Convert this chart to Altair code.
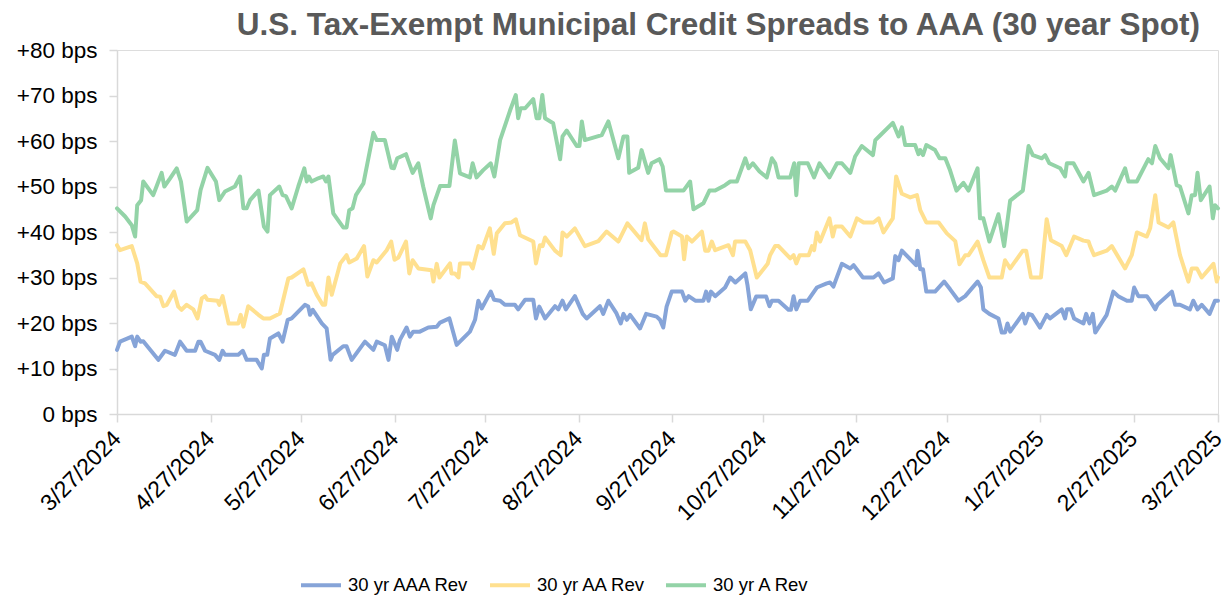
import altair as alt
import pandas as pd

# Days since 3/27/2024 and spread in bps
aaa_days = [0, 1.0, 4.9, 6.0, 6.7, 7.8, 8.7, 13.7, 15.9, 19.2, 20.9, 23.1, 25.9, 27.0, 27.7, 29.2, 32.5, 33.9, 35.0, 35.8,
            40.2, 41.7, 43.0, 46.3, 48.0, 48.7, 49.8, 50.7, 53.5, 54.9, 56.6, 57.9, 62.3, 63.4, 64.0, 64.9, 67.9, 69.5,
            70.8, 71.5, 75.0, 76.1, 77.8, 82.2, 85.0, 86.1, 88.8, 90.0, 91.1, 92.9, 93.8, 96.0, 97.1, 98.2, 100.4, 103.2,
            106.0, 107.1, 110.2, 112.6, 117.0, 118.7, 119.8, 120.9, 123.9, 125.0, 127.0, 128.6, 131.9, 133.0, 135.3,
            138.0, 138.9, 140.0, 141.9, 145.2, 146.3, 147.7, 148.8, 151.8, 154.4, 155.7, 160.1, 161.2, 162.9, 165.6,
            167.0, 167.9, 169.0, 170.1, 173.4, 175.4, 178.9, 180.0, 181.1, 182.2, 183.9, 187.3, 188.4, 189.5, 191.7,
            194.4, 195.3, 196.1, 196.9, 198.3, 201.6, 203.3, 205.0, 208.3, 209.0, 210.1, 211.9, 215.2, 216.3, 217.1,
            219.3, 222.6, 223.4, 224.3, 225.2, 226.5, 229.0, 232.0, 235.3, 236.4, 237.5, 240.3, 243.1, 244.2, 247.3,
            250.8, 252.5, 254.3, 257.2, 258.0, 259.1, 260.2, 264.9, 265.4, 266.3, 267.2, 268.3, 271.2, 274.2, 276.2,
            279.0, 281.2, 285.3, 286.4, 287.2, 289.2, 292.2, 293.3, 294.4, 295.2, 296.1, 300.3, 301.1, 302.2, 303.3,
            306.0, 308.2, 309.3, 313.2, 314.3, 314.9, 316.2, 317.3, 320.4, 321.3, 322.4, 323.5, 324.3, 328.1, 330.3,
            331.9, 334.8, 336.4, 337.2, 338.6, 341.4, 342.5, 344.2, 344.9, 349.7, 350.8, 352.4, 355.7, 356.8, 358.2,
            359.6, 362.2, 364.0, 365.0]
aaa_bps = [14.1, 15.9, 17.0, 14.9, 17.0, 15.9, 16.0, 11.9, 13.9, 13.0, 15.9, 13.9, 13.9, 15.9, 15.9, 13.9, 13.0, 11.9, 13.9, 13.0,
           13.0, 13.9, 11.9, 11.9, 10.0, 13.0, 13.0, 16.6, 17.7, 15.9, 20.7, 21.0, 24.0, 23.6, 21.8, 22.9, 19.9, 18.8,
           11.9, 13.0, 14.9, 14.9, 11.9, 15.9, 14.1, 15.9, 15.1, 11.9, 17.0, 14.1, 16.3, 19.0, 17.0, 18.1, 18.1, 19.0,
           19.2, 20.1, 21.0, 15.2, 18.1, 20.7, 24.9, 23.2, 26.9, 25.1, 24.9, 24.0, 24.0, 23.0, 25.1,
           25.1, 21.0, 23.6, 21.0, 23.7, 23.0, 24.9, 23.0, 25.9, 22.0, 21.0, 23.7, 22.0, 24.9, 22.1,
           19.9, 22.0, 20.7, 21.8, 18.8, 22.0, 21.4, 20.7, 19.0, 23.6, 26.9, 26.9, 24.9, 25.9, 24.9,
           24.9, 26.9, 24.9, 26.9, 25.9, 27.8, 30.0, 28.9, 30.9, 28.4, 23.0, 25.8, 25.8, 23.7, 24.9,
           24.9, 22.9, 22.9, 25.9, 23.0, 24.9, 24.9, 27.8, 28.7, 28.9, 28.0, 33.0, 32.0, 32.7, 30.0,
           30.0, 30.9, 28.9, 29.8, 34.7, 33.8, 35.9, 32.7, 35.9, 31.8, 31.8, 26.9, 26.9, 29.1, 27.4,
           24.9, 25.9, 29.1, 27.8, 23.0, 22.0, 21.0, 17.9, 17.9, 19.9, 18.1, 22.0, 19.9, 22.0, 21.8,
           19.0, 21.8, 21.0, 23.0, 21.0, 23.0, 23.0, 21.0, 19.9, 22.0, 19.9, 22.0, 17.9, 21.8, 26.9,
           25.9, 24.9, 24.9, 27.8, 25.9, 25.9, 24.9, 23.0, 24.0, 26.9, 24.0, 24.0, 23.0, 24.9, 23.0,
           24.0, 22.0, 24.9, 24.9]

aa_days = [0, 1.0, 4.9, 6.7, 7.8, 9.3, 13.1, 14.3, 15.4, 16.5, 18.9, 20.3, 21.4, 23.1, 25.3, 26.7, 28.1, 29.2, 30.0, 33.3,
           33.9, 35.0, 37.0, 40.2, 41.0, 41.9, 43.5, 46.9, 48.5, 50.7, 54.0, 56.8, 57.9, 61.8, 63.4, 64.5, 66.2, 68.2,
           69.0, 70.1, 71.2, 74.0, 76.1, 77.0, 79.5, 81.9, 83.0, 85.0, 86.1, 89.4, 90.9, 92.0, 93.3, 95.8, 96.9, 98.0,
           99.9, 104.3, 104.9, 106.0, 106.9, 110.4, 110.9, 112.0, 113.2, 113.7, 117.0, 117.9, 119.8, 121.2, 123.6,
           124.9, 125.9, 128.6, 130.8, 132.2, 133.6, 138.0, 138.9, 140.2, 141.1, 141.9, 145.2, 147.1, 147.7, 149.1,
           151.8, 155.1, 159.6, 162.3, 166.2, 169.2, 173.9, 175.0, 176.1, 180.2, 182.0, 183.9, 184.5, 187.3, 188.0,
           188.9, 190.6, 193.9, 195.0, 196.1, 197.2, 198.3, 202.7, 204.2, 204.9, 208.3, 209.9, 212.1, 215.7, 216.5,
           218.2, 219.3, 223.2, 224.3, 225.2, 226.3, 229.3, 230.4, 231.1, 232.0, 233.1, 236.2, 237.3, 238.1, 240.3,
           243.1, 245.3, 247.5, 250.8, 252.5, 254.1, 257.2, 258.3, 260.2, 263.0, 265.2, 266.3, 268.3, 272.4, 275.1,
           277.9, 279.3, 281.2, 282.3, 285.3, 287.2, 289.2, 293.3, 294.4, 296.1, 300.3, 301.4, 303.0, 306.3, 308.2,
           309.6, 313.2, 314.7, 317.3, 320.4, 322.1, 322.6, 323.9, 328.1, 329.8, 334.2, 336.4, 338.1, 341.4, 342.5,
           344.2, 345.3, 348.6, 350.2, 352.4, 355.2, 356.3, 358.0, 359.6, 363.5, 364.6, 365.0]
aa_bps = [37.1, 36.0, 36.9, 33.1, 29.1, 28.7, 25.9, 25.8, 23.7, 24.0, 26.9, 23.6, 22.9, 24.0, 23.0, 21.0, 25.4, 25.9, 25.1, 24.9,
          24.0, 25.9, 19.9, 19.9, 21.8, 19.2, 23.7, 21.8, 21.0, 21.0, 22.1, 29.8, 30.0, 31.8, 28.4, 28.7, 26.2, 24.0,
          24.0, 30.0, 26.2, 33.1, 34.9, 33.3, 34.2, 36.9, 30.2, 33.8, 33.3, 36.0, 37.9, 33.9, 34.4, 37.9, 30.9, 33.8,
          32.0, 31.6, 29.1, 33.0, 30.0, 33.1, 30.9, 30.9, 30.0, 33.1, 33.1, 32.0, 36.9, 36.4, 40.8,
          35.2, 39.7, 41.9, 42.1, 42.8, 39.3, 37.9, 33.1, 37.1, 36.9, 38.8, 35.9, 34.9, 39.9, 39.0,
          40.8, 36.9, 38.0, 40.1, 37.9, 41.9, 38.2, 41.9, 38.4, 34.9, 34.9, 39.9, 40.1, 39.0, 34.0,
          39.0, 37.9, 40.1, 35.9, 35.9, 37.9, 36.0, 37.1, 34.9, 37.9, 37.9, 36.0, 30.0, 33.0, 34.9,
          36.9, 36.9, 34.2, 34.9, 33.1, 34.9, 34.9, 36.9, 36.0, 39.9, 37.9, 43.0, 39.0, 41.2, 41.2,
          39.0, 43.0, 42.1, 42.1, 43.0, 39.9, 43.0, 52.2, 48.4, 47.6, 48.1, 44.8, 42.1, 42.1, 39.7,
          38.0, 32.9, 34.9, 34.9, 37.9, 33.8, 30.0, 30.0, 33.8, 32.0, 35.9, 35.9, 30.0, 30.0, 42.8,
          38.2, 36.9, 34.9, 39.0, 38.1, 37.9, 36.9, 34.9, 35.9, 36.9, 32.0, 34.9, 39.9, 39.0, 40.8,
          48.1, 42.1, 41.0, 42.1, 34.9, 29.1, 32.0, 32.0, 30.0, 33.0, 29.1, 30.0]

a_days = [0, 2.7, 4.9, 6.0, 6.7, 8.0, 8.7, 12.0, 13.1, 14.8, 15.7, 17.6, 19.8, 21.2, 23.1, 26.6, 27.7, 30.0, 32.8, 33.9,
          35.8, 39.1, 40.8, 41.9, 43.0, 44.1, 46.9, 48.7, 49.9, 50.7, 53.8, 54.9, 56.0, 57.9, 60.1, 62.1, 62.9, 63.6,
          64.5, 66.7, 68.4, 69.3, 70.1, 71.7, 75.0, 76.1, 77.0, 78.1, 79.2, 81.7, 85.0, 86.1, 88.8, 91.0, 91.8, 92.9,
          95.8, 98.0, 99.9, 101.5, 104.0, 104.9, 107.1, 110.2, 112.0, 113.7, 117.0, 117.9, 119.2, 121.4, 123.9, 125.1,
          127.0, 130.3, 132.2, 133.0, 133.8, 135.3, 138.0, 139.1, 140.0, 141.0, 141.9, 144.6, 146.9, 147.7, 149.1,
          152.4, 153.3, 154.1, 155.1, 160.7, 162.9, 166.2, 167.9, 169.2, 169.8, 172.8, 173.9, 176.1, 177.2, 179.8,
          180.9, 182.0, 187.8, 190.0, 191.1, 194.4, 196.4, 198.3, 201.6, 203.3, 205.5, 208.3, 209.4, 210.8, 213.0,
          215.4, 217.1, 218.2, 219.3, 223.2, 224.5, 225.2, 226.0, 229.0, 231.1, 232.9, 236.2, 238.7, 240.3, 243.1,
          244.7, 246.9, 250.6, 251.4, 252.8, 257.2, 259.1, 260.2, 261.3, 264.6, 265.7, 266.3, 267.2, 268.3, 271.2,
          272.7, 274.6, 276.2, 278.3, 280.6, 282.3, 285.3, 286.1, 287.2, 289.2, 292.2, 294.1, 296.1, 300.3, 302.2,
          303.6, 306.6, 307.7, 309.1, 312.7, 314.3, 314.9, 317.1, 320.4, 322.1, 323.9, 328.1, 329.8, 330.9, 334.2,
          335.3, 338.1, 341.9, 343.1, 344.2, 345.8, 348.6, 349.3, 351.3, 352.4, 355.2, 356.3, 357.4, 358.2, 359.3,
          362.2, 363.3, 364.0, 365.0]
a_bps = [45.2, 43.4, 41.5, 39.0, 45.9, 47.0, 51.1, 48.1, 50.0, 53.0, 50.0, 51.8, 54.0, 51.1, 42.3, 44.8, 49.2, 54.1, 51.1, 47.0,
         48.9, 50.0, 52.2, 45.2, 45.2, 47.0, 49.1, 41.2, 40.1, 48.1, 50.0, 48.1, 47.9, 45.2, 50.0, 54.0, 51.1, 52.2,
         51.1, 51.8, 52.2, 51.1, 52.2, 44.1, 41.0, 41.0, 44.8, 45.2, 48.1, 50.7, 61.8, 60.2, 60.2, 54.1, 54.0, 56.2,
         57.1, 53.0, 55.1, 50.0, 43.0, 45.9, 50.1, 50.1, 60.1, 52.9, 52.0, 55.1, 52.0, 53.6, 55.1, 52.2,
         60.2, 66.7, 70.1, 65.0, 67.2, 67.2, 69.2, 65.0, 65.0, 70.1, 65.0, 63.9, 56.0, 61.0, 62.3,
         58.9, 58.9, 64.3, 60.2, 61.3, 64.3, 56.2, 61.0, 61.0, 53.0, 54.1, 58.0, 53.0, 55.1, 56.0,
         54.4, 49.1, 49.1, 51.1, 45.0, 46.3, 49.1, 49.1, 50.3, 51.1, 51.1, 56.2, 54.0, 55.1, 53.3,
         52.0, 56.2, 55.1, 52.0, 52.0, 55.1, 48.1, 55.1, 55.1, 52.0, 55.1, 52.0, 55.1, 55.1, 53.0,
         56.6, 58.9, 56.9, 60.2, 61.1, 64.0, 61.0, 63.0, 59.1, 59.1, 57.1, 58.0, 56.9, 59.1, 58.0,
         56.2, 56.2, 53.5, 49.1, 50.8, 49.1, 54.0, 43.0, 43.0, 37.9, 43.9, 36.9, 46.9, 49.1, 58.9,
         56.9, 56.2, 56.9, 55.1, 54.0, 52.2, 55.1, 55.1, 51.1, 53.0, 48.1, 49.1, 50.0, 49.1, 54.0,
         51.1, 51.1, 56.0, 55.1, 58.9, 56.2, 54.0, 56.9, 50.3, 50.0, 44.1, 48.1, 48.1, 53.0, 47.0,
         50.0, 43.0, 45.9, 45.2]

series_names = ["30 yr AAA Rev", "30 yr AA Rev", "30 yr A Rev"]
series_colors = ["#86a4d8", "#ffe08f", "#93d3a7"]
tick_dates = [(2024, 3), (2024, 4), (2024, 5), (2024, 6), (2024, 7), (2024, 8), (2024, 9), (2024, 10),
              (2024, 11), (2024, 12), (2025, 1), (2025, 2), (2025, 3)]
y_ticks = [0, 10, 20, 30, 40, 50, 60, 70, 80]

start = pd.Timestamp("2024-03-27")


def frame(days, vals, name):
    return pd.DataFrame({
        "date": start + pd.to_timedelta(days, unit="D"),
        "bps": vals,
        "series": name,
    })


df = pd.concat([
    frame(aaa_days, aaa_bps, series_names[0]),
    frame(aa_days, aa_bps, series_names[1]),
    frame(a_days, a_bps, series_names[2]),
], ignore_index=True)

FONT = "Liberation Sans"
AXIS_GRAY = "#d9d9d9"

chart = alt.Chart(df).mark_line(strokeWidth=4, strokeJoin="round", strokeCap="round").encode(
    x=alt.X(
        "date:T",
        scale=alt.Scale(domain=[alt.DateTime(year=2024, month=3, date=27),
                                alt.DateTime(year=2025, month=3, date=27)], nice=False),
        axis=alt.Axis(
            values=[alt.DateTime(year=y, month=m, date=27) for y, m in tick_dates],
            format="%-m/%-d/%Y", labelAngle=-45, labelAlign="right", labelBaseline="top",
            title=None, grid=False, labelFont=FONT, labelFontSize=23, labelColor="#000000",
            labelPadding=5, labelOffset=-8, tickSize=8, tickColor=AXIS_GRAY, tickWidth=1.5,
            domainColor=AXIS_GRAY, domainWidth=1.5, labelOverlap=False, labelFlush=False,
        ),
    ),
    y=alt.Y(
        "bps:Q",
        scale=alt.Scale(domain=[0, 80], nice=False),
        axis=alt.Axis(
            values=y_ticks,
            labelExpr="datum.value == 0 ? '0 bps' : '+' + datum.value + ' bps'",
            title=None, grid=False, labelFont=FONT, labelFontSize=22.5, labelColor="#000000",
            labelPadding=12, tickSize=8, tickColor=AXIS_GRAY, tickWidth=1.5,
            domainColor=AXIS_GRAY, domainWidth=1.5,
        ),
    ),
    color=alt.Color(
        "series:N",
        scale=alt.Scale(domain=series_names, range=series_colors),
        legend=alt.Legend(
            title=None, orient="none", direction="horizontal", legendX=182, legendY=513,
            symbolType="stroke", symbolSize=1600, symbolStrokeWidth=4,
            labelFont=FONT, labelFontSize=18.5, labelColor="#000000",
            labelOffset=5, columnPadding=12,
        ),
    ),
).properties(
    width=1101,
    height=364,
    title=alt.TitleParams(
        "U.S. Tax-Exempt Municipal Credit Spreads to AAA (30 year Spot)",
        anchor="end", frame="group", font=FONT, fontSize=31.5, fontWeight="bold",
        color="#595959", offset=-2, dx=-18,
    ),
    autosize=alt.AutoSizeParams(type="none"),
    padding={"left": 109, "top": 42, "right": 5, "bottom": 184},
).configure_view(stroke=None).configure(background="white")

chart.save("out.html", embed_options={"renderer": "svg", "actions": False})
